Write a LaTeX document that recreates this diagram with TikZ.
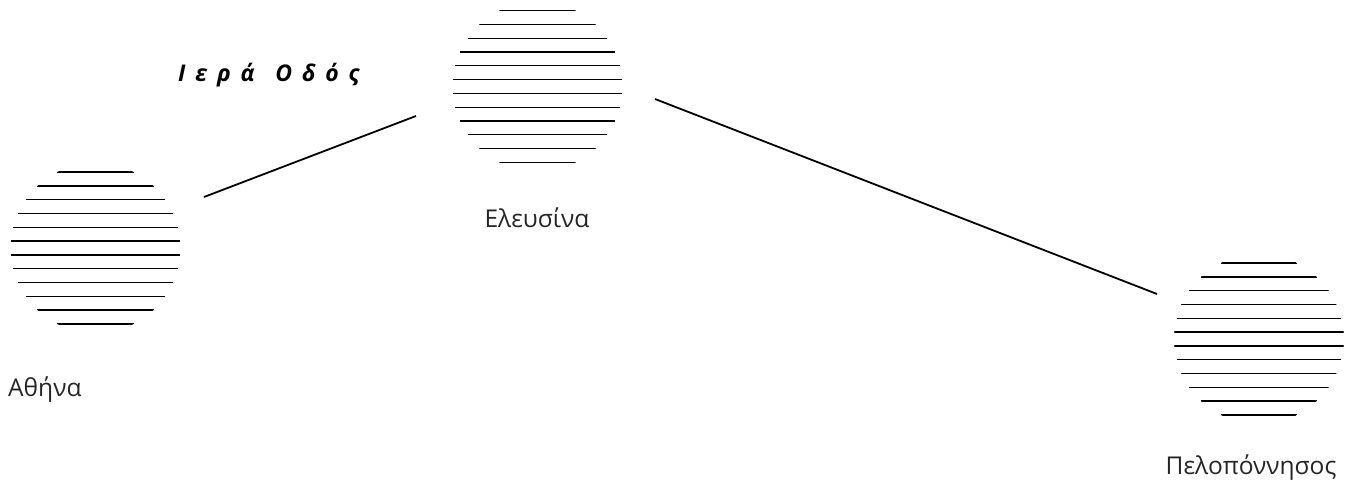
\documentclass[tikz,border=0pt]{standalone}
\usepackage{fontspec}
\setmainfont{Open Sans}
\begin{document}
\begin{tikzpicture}[x=1pt,y=-1pt,
  hatched/.style={circle,minimum size=170pt,inner sep=0pt,
    path picture={
      \foreach \k in {-5.5,-4.5,...,5.5}{
        \pgfmathsetmacro{\yy}{\k*13.8}
        \pgfmathsetmacro{\hw}{sqrt(85*85-\yy*\yy)}
        \draw[line width=1.3pt] ([xshift=-\hw pt,yshift=-\yy pt]path picture bounding box.center) -- ([xshift=\hw pt,yshift=-\yy pt]path picture bounding box.center);
      }}},
  lbl/.style={font=\fontsize{24.5}{28}\selectfont,inner sep=0pt,text=black!85},
  road/.style={line width=1.8pt}]
\useasboundingbox (0,0) rectangle (1361,486);
\node[hatched] (ath) at (95.5,248) {};
\node[hatched] (ele) at (537.5,86.5) {};
\node[hatched] (pel) at (1259,339) {};
\node[lbl,anchor=west] (athl) at (8,390) {Αθήνα};
\node[lbl] (elel) at (537,218) {Ελευσίνα};
\node[lbl] (pell) at (1251,468) {Πελοπόννησος};
\node[font=\fontsize{23}{26}\selectfont\bfseries\itshape,inner sep=0pt,anchor=west] (title) at (178,75) {Ι\, ε\, ρ\, ά\hspace{15pt} Ο\, δ\, ό\, ς};
\coordinate (a1) at (204,197);
\coordinate (e1) at (416,116);
\coordinate (e2) at (655,99);
\coordinate (p1) at (1157,294);
\draw[road] (a1) -- (e1);
\draw[road] (e2) -- (p1);
\end{tikzpicture}
\end{document}
